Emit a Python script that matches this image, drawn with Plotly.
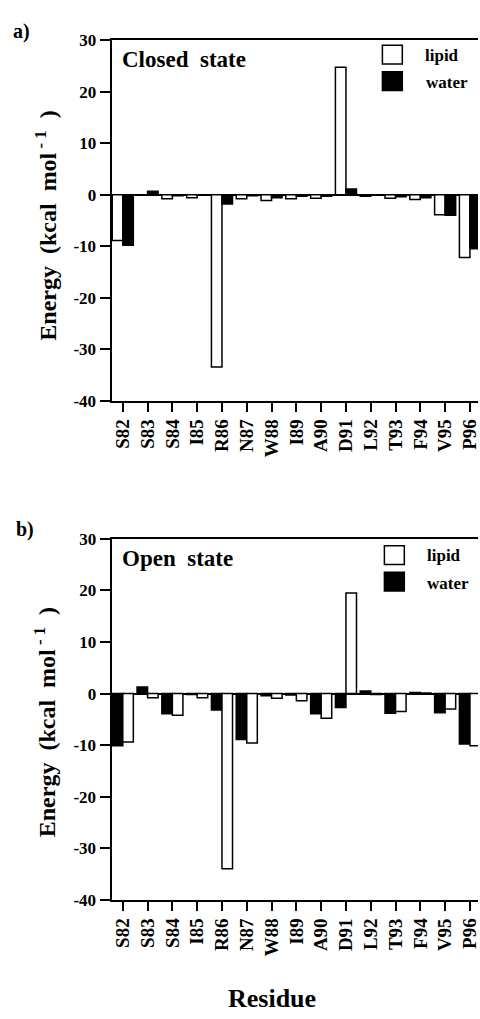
import plotly.graph_objects as go

# ---------------- data ----------------
residues = ["S82", "S83", "S84", "I85", "R86", "N87", "W88", "I89",
            "A90", "D91", "L92", "T93", "F94", "V95", "P96"]

lipid_closed = [-8.9, -0.1, -0.8, -0.6, -33.5, -0.8, -1.1, -0.8,
                -0.7, 24.8, -0.3, -0.7, -0.9, -3.9, -12.2]
water_closed = [-9.8, 0.7, -0.2, -0.1, -1.8, -0.2, -0.6, -0.3,
                -0.3, 1.1, -0.1, -0.4, -0.6, -4.0, -10.5]

water_open = [-10.1, 1.3, -3.9, -0.2, -3.2, -8.9, -0.4, -0.3,
              -3.9, -2.7, 0.5, -3.8, 0.2, -3.7, -9.8]
lipid_open = [-9.4, -0.8, -4.2, -0.8, -34.0, -9.6, -0.9, -1.4,
              -4.8, 19.5, -0.2, -3.5, 0.1, -3.0, -10.1]

y_tickvals = [30, 20, 10, 0, -10, -20, -30, -40]
y_ticktext = ["30", "20", "10", "0", "-10", "-20", "-30", "-40"]

# ---------------- geometry helpers ----------------
W, H = 480, 1019
FONT = "Liberation Serif"


def px_x(p):
    return p / W


def px_y(p):
    return 1 - p / H


LINE = dict(color="black", width=1.5)

fig = go.Figure()

# top panel: lipid then water
fig.add_trace(go.Bar(x=residues, y=lipid_closed, name="lipid",
                     marker=dict(color="white", line=LINE),
                     xaxis="x", yaxis="y", showlegend=False))
fig.add_trace(go.Bar(x=residues, y=water_closed, name="water",
                     marker=dict(color="black", line=LINE),
                     xaxis="x", yaxis="y", showlegend=False))
# bottom panel: water then lipid
fig.add_trace(go.Bar(x=residues, y=water_open, name="water",
                     marker=dict(color="black", line=LINE),
                     xaxis="x2", yaxis="y2", showlegend=False))
fig.add_trace(go.Bar(x=residues, y=lipid_open, name="lipid",
                     marker=dict(color="white", line=LINE),
                     xaxis="x2", yaxis="y2", showlegend=False))

xdom = [px_x(112), 1]
xrange = [-0.454, 14.325]

xaxis_common = dict(
    type="category", range=xrange, domain=xdom,
    showline=True, linecolor="black", linewidth=2, mirror=True,
    ticks="outside", ticklen=9, tickwidth=2, tickcolor="black",
    tickangle=-90, showgrid=False, zeroline=False,
    tickfont=dict(family=FONT, size=19, color="black", weight="bold"),
)
yaxis_common = dict(
    range=[-40, 30], tickvals=y_tickvals, ticktext=y_ticktext,
    showline=True, linecolor="black", linewidth=2,
    ticks="outside", ticklen=10, tickwidth=2, tickcolor="black",
    showgrid=False, zeroline=True, zerolinecolor="black", zerolinewidth=1.5,
    tickfont=dict(family=FONT, size=17, color="black", weight="bold"),
)

fig.update_layout(
    width=W, height=H,
    margin=dict(l=0, r=0, t=0, b=0),
    paper_bgcolor="white", plot_bgcolor="white",
    barmode="group", bargap=0.15, bargroupgap=0,
    xaxis=dict(**xaxis_common, anchor="y"),
    yaxis=dict(**yaxis_common, domain=[px_y(399), px_y(32)], anchor="x"),
    xaxis2=dict(**xaxis_common, anchor="y2"),
    yaxis2=dict(**yaxis_common, domain=[px_y(907.7), px_y(540)], anchor="x2"),
)

txt = dict(family=FONT, color="black", weight="bold")
annotations = []


def ann(text, x, y, size, xanchor="left", yanchor="middle", angle=0):
    annotations.append(dict(
        text=text, x=px_x(x), y=px_y(y), xref="paper", yref="paper",
        xanchor=xanchor, yanchor=yanchor, showarrow=False, textangle=angle,
        font=dict(size=size, **txt)))


# panel labels
ann("a)", 11, 23, 20)
ann("b)", 14, 530, 20)
ann("Closed\u00a0 state", 120, 51, 23)
ann("Open\u00a0 state", 120, 560, 23)

# legend labels
ann("lipid", 425, 47, 17)
ann("water", 426, 75, 17)
ann("lipid", 427, 557, 17)
ann("water", 427, 585, 17)

# y-axis titles
ytitle = "Energy\u00a0 (kcal\u00a0 mol<sup> - 1</sup>\u00a0 )"
ann(ytitle, 46, 221, 24, xanchor="center", angle=-90)
ann(ytitle, 46, 727, 24, xanchor="center", angle=-90)

# x-axis title
ann("Residue", 273, 1008, 26, xanchor="center")

fig.update_layout(annotations=annotations)

# legend swatches
shapes = []
for (x0, y0, x1, y1, fill) in [
    (384, 37, 404, 56, "white"), (384, 64, 404, 83, "black"),
    (386, 547, 406, 566, "white"), (386, 574, 406, 593, "black"),
]:
    shapes.append(dict(type="rect", xref="paper", yref="paper",
                       x0=px_x(x0), x1=px_x(x1), y0=px_y(y0), y1=px_y(y1),
                       fillcolor=fill, line=dict(color="black", width=1.5)))
fig.update_layout(shapes=shapes)

fig.write_html(
    "out.html",
    config={"displayModeBar": False},
    post_script=(
        "document.documentElement.style.margin='0';"
        "document.body.style.margin='0';"
        "document.body.style.overflow='hidden';"
        "var gd=document.getElementById('{plot_id}');"
        "gd.style.position='fixed';gd.style.top='0px';gd.style.left='0px';"
    ),
)
